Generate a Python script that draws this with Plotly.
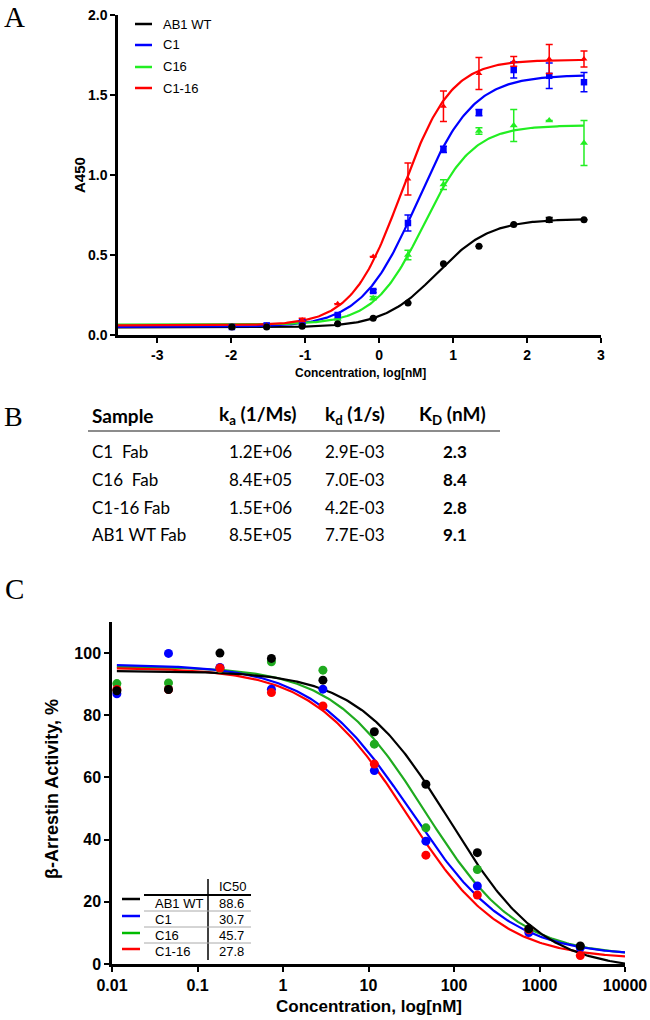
import numpy as np
import plotly.graph_objects as go

W, H = 650, 1020
def px(x): return x / W
def py(y): return 1 - y / H

# ---------------- Panel A data (ELISA) ----------------
A_series = ["AB1 WT", "C1", "C16", "C1-16"]
A_logconc = [-1.99, -1.52, -1.04, -0.56, -0.08, 0.39, 0.87, 1.35, 1.82, 2.30, 2.77]
A_wt = [0.05, 0.05, 0.055, 0.07, 0.105, 0.20, 0.445, 0.555, 0.69, 0.72, 0.72]
A_wt_err = [0, 0, 0, 0, 0, 0, 0, 0, 0, 0.015, 0]
A_c1 = [0.05, 0.06, 0.08, 0.125, 0.275, 0.70, 1.16, 1.39, 1.656, 1.62, 1.58]
A_c1_err = [0, 0, 0.01, 0, 0.01, 0.05, 0.02, 0.02, 0.05, 0.08, 0.06]
A_c16 = [0.05, 0.06, 0.07, 0.10, 0.23, 0.50, 0.94, 1.275, 1.31, 1.34, 1.20]
A_c16_err = [0, 0, 0, 0, 0.01, 0.03, 0.03, 0.02, 0.10, 0, 0.14]
A_c116 = [0.05, 0.06, 0.094, 0.195, 0.49, 0.975, 1.43, 1.635, 1.71, 1.725, 1.725]
A_c116_err = [0, 0, 0.01, 0, 0, 0.10, 0.095, 0.10, 0.03, 0.09, 0.05]
# fitted 4PL parameters: bottom, top, logEC50, hill
A_fit_bottom = [0.047, 0.05, 0.065, 0.06]
A_fit_top = [0.725, 1.625, 1.31, 1.72]
A_fit_logec50 = [0.78, 0.52, 0.60, 0.30]
A_fit_hill = [1.2, 1.15, 1.3, 1.3]
A_yticks = [0.0, 0.5, 1.0, 1.5, 2.0]
A_xticks = [-3, -2, -1, 0, 1, 2, 3]

# ---------------- Panel B data (kinetics table) ----------------
B_samples = ["C1\u00a0 Fab", "C16\u00a0 Fab", "C1-16 Fab", "AB1 WT Fab"]
B_ka = ["1.2E+06", "8.4E+05", "1.5E+06", "8.5E+05"]
B_kd = ["2.9E-03", "7.0E-03", "4.2E-03", "7.7E-03"]
B_KD = ["2.3", "8.4", "2.8", "9.1"]

# ---------------- Panel C data (beta-arrestin) ----------------
C_series = ["AB1 WT", "C1", "C16", "C1-16"]
C_conc = [0.0114, 0.0458, 0.183, 0.732, 2.93, 11.7, 46.9, 187.5, 750, 3000]
C_wt = [87.9, 88.3, 100.0, 98.3, 91.3, 74.7, 57.8, 35.8, 11.3, 5.8]
C_c1 = [86.9, 99.9, 95.4, 88.4, 88.4, 62.2, 39.5, 25.1, 10.1, 5.2]
C_c16 = [90.2, 90.4, 95.0, 97.2, 94.5, 70.7, 43.8, 30.4, 11.0, 5.5]
C_c116 = [88.3, 88.3, 95.2, 87.3, 83.0, 64.3, 35.0, 22.2, 11.0, 2.7]
C_ic50 = [88.6, 30.7, 45.7, 27.8]
C_fit_top = [94.3, 96.4, 95.7, 95.3]
C_fit_bottom = [-2.0, 2.5, 2.5, 1.5]
C_fit_hill = [0.8, 0.75, 0.8, 0.78]
C_yticks = [0, 20, 40, 60, 80, 100]
C_xticks = [0.01, 0.1, 1, 10, 100, 1000, 10000]
C_xticklabels = ["0.01", "0.1", "1", "10", "100", "1000", "10000"]

A_colors = ["#000000", "#0000ff", "#22ee22", "#ff0000"]
C_colors = ["#000000", "#0000ff", "#1faa1f", "#ff0000"]
A_symbols = ["circle", "square", "triangle-up", "triangle-up"]
A_sizes = [7, 6.5, 7, 6]

fig = go.Figure()

# Panel A curves + points
A_vals = [A_wt, A_c1, A_c16, A_c116]
A_errs = [A_wt_err, A_c1_err, A_c16_err, A_c116_err]
xfit = np.linspace(-3.53, A_logconc[-1], 300)
for i in [0, 1, 2, 3]:
    b, t, e, h = A_fit_bottom[i], A_fit_top[i], A_fit_logec50[i], A_fit_hill[i]
    yfit = b + (t - b) / (1 + 10 ** ((e - xfit) * h))
    fig.add_trace(go.Scatter(x=xfit, y=yfit, mode="lines",
                             line=dict(color=A_colors[i], width=2.2),
                             xaxis="x", yaxis="y", showlegend=False, hoverinfo="skip"))
for i in [2, 1, 3, 0]:
    fig.add_trace(go.Scatter(x=A_logconc, y=A_vals[i], mode="markers",
                             marker=dict(color=A_colors[i], symbol=A_symbols[i], size=A_sizes[i]),
                             error_y=dict(type="data", array=A_errs[i], color=A_colors[i],
                                          thickness=1.5, width=3.5),
                             xaxis="x", yaxis="y", showlegend=False, cliponaxis=False))

# Panel C curves + points
C_vals = [C_wt, C_c1, C_c16, C_c116]
lx = np.linspace(np.log10(C_conc[0]), 4, 300)
for i in [2, 1, 3, 0]:
    t, b, h = C_fit_top[i], C_fit_bottom[i], C_fit_hill[i]
    yfit = b + (t - b) / (1 + 10 ** ((lx - np.log10(C_ic50[i])) * h))
    fig.add_trace(go.Scatter(x=10 ** lx, y=yfit, mode="lines",
                             line=dict(color=C_colors[i], width=2.2),
                             xaxis="x2", yaxis="y2", showlegend=False, hoverinfo="skip"))
for i in [2, 1, 3, 0]:
    fig.add_trace(go.Scatter(x=C_conc, y=C_vals[i], mode="markers",
                             marker=dict(color=C_colors[i], size=9),
                             xaxis="x2", yaxis="y2", showlegend=False, cliponaxis=False))

axis_common = dict(showline=True, linecolor="black", linewidth=2.5, ticks="outside",
                   ticklen=5, tickwidth=2, tickcolor="black", showgrid=False, zeroline=False,
                   mirror=False, automargin=False)
fA = dict(family="Liberation Sans, Arial", size=14, color="black", weight="bold")
fC = dict(family="Liberation Sans, Arial", size=16, color="black", weight="bold")
fig.update_layout(
    width=W, height=H, margin=dict(l=0, r=0, t=0, b=0, autoexpand=False),
    paper_bgcolor="white", plot_bgcolor="white", showlegend=False,
    xaxis=dict(domain=[px(118), px(601)], range=[-3.53, 3], anchor="y",
               tickvals=A_xticks, ticktext=[str(v) for v in A_xticks], tickfont=fA,
               **axis_common),
    yaxis=dict(domain=[py(335), py(15)], range=[0, 2], anchor="x",
               tickvals=A_yticks, ticktext=["%.1f" % v for v in A_yticks], tickfont=fA,
               **axis_common),
    xaxis2=dict(domain=[px(112), px(625)], type="log", range=[-2, 4], anchor="y2",
                tickvals=C_xticks, ticktext=C_xticklabels, tickfont=fC,
                **axis_common),
    yaxis2=dict(domain=[py(964), py(622)], range=[0, 110], anchor="x2",
                tickvals=C_yticks, ticktext=[str(v) for v in C_yticks], tickfont=fC,
                **axis_common),
)

ann = []
shapes = []
def text(x, y, s, size, family="Liberation Sans, Arial", xanchor="center", bold=False, angle=0, color="black"):
    ann.append(dict(x=px(x), y=py(y), xref="paper", yref="paper", text=s, showarrow=False,
                    xanchor=xanchor, yanchor="middle", textangle=angle,
                    font=dict(family=family, size=size, color=color, weight="bold" if bold else "normal")))

# panel letters
text(14, 17, "A", 29, family="Liberation Serif, Times New Roman")
text(13, 416, "B", 28, family="Liberation Serif, Times New Roman")
text(14, 589, "C", 29, family="Liberation Serif, Times New Roman")

# Panel A titles
text(79, 175, "A450", 15, bold=True, angle=-90)
text(360, 373, "Concentration, log[nM]", 12, bold=True)

# Panel A legend
A_leg_y = [24, 45, 67, 88]
for i in range(4):
    shapes.append(dict(type="line", xref="paper", yref="paper", x0=px(135), x1=px(152),
                       y0=py(A_leg_y[i]), y1=py(A_leg_y[i]), line=dict(color=A_colors[i], width=2.5)))
    text(161, A_leg_y[i], A_series[i], 13, xanchor="left")

# Panel B table
tf = "Lato, Carlito, Calibri, Open Sans"
hy = 415
text(90, hy, "Sample", 19, family=tf, xanchor="left", bold=True)
text(257, hy, "k<sub>a</sub> (1/Ms)", 19, family=tf, bold=True)
text(355, hy, "k<sub>d</sub> (1/s)", 19, family=tf, bold=True)
text(452, hy, "K<sub>D</sub> (nM)", 19, family=tf, bold=True)
shapes.append(dict(type="line", xref="paper", yref="paper", x0=px(88), x1=px(500),
                   y0=py(431), y1=py(431), line=dict(color="#666666", width=1.5)))
row_y = [451, 479, 507, 534]
for r in range(4):
    text(90, row_y[r], B_samples[r], 17, family=tf, xanchor="left")
    text(260, row_y[r], B_ka[r], 17, family=tf)
    text(355, row_y[r], B_kd[r], 17, family=tf)
    text(455, row_y[r], B_KD[r], 17, family=tf, bold=True)

# Panel C titles
text(52, 789, "β-Arrestin Activity, %", 18, bold=True, angle=-90)
text(369, 1006, "Concentration, log[nM]", 17, bold=True)

# Panel C legend table
C_leg_line_y = [899, 916, 933, 949]
C_row_y = [903, 919, 935, 951]
for i in range(4):
    shapes.append(dict(type="line", xref="paper", yref="paper", x0=px(122), x1=px(140),
                       y0=py(C_leg_line_y[i]), y1=py(C_leg_line_y[i]),
                       line=dict(color=C_colors[i] if i != 2 else "#00bb00", width=2.5)))
    text(153, C_row_y[i], C_series[i], 13, xanchor="left")
    text(217, C_row_y[i], "%.1f" % C_ic50[i], 13, xanchor="left")
text(217, 886, "IC50", 13, xanchor="left")
shapes.append(dict(type="line", xref="paper", yref="paper", x0=px(208), x1=px(208),
                   y0=py(879), y1=py(960), line=dict(color="black", width=1.5)))
shapes.append(dict(type="line", xref="paper", yref="paper", x0=px(144), x1=px(251),
                   y0=py(895), y1=py(895), line=dict(color="black", width=1.8)))
for yy in [911, 927, 943]:
    shapes.append(dict(type="line", xref="paper", yref="paper", x0=px(144), x1=px(251),
                       y0=py(yy), y1=py(yy), line=dict(color="#aaaaaa", width=1)))

fig.update_layout(annotations=ann, shapes=shapes)
fig.write_html("out.html", config={"displayModeBar": False},
               post_script="document.body.style.margin='0';document.body.style.overflow='hidden';")
